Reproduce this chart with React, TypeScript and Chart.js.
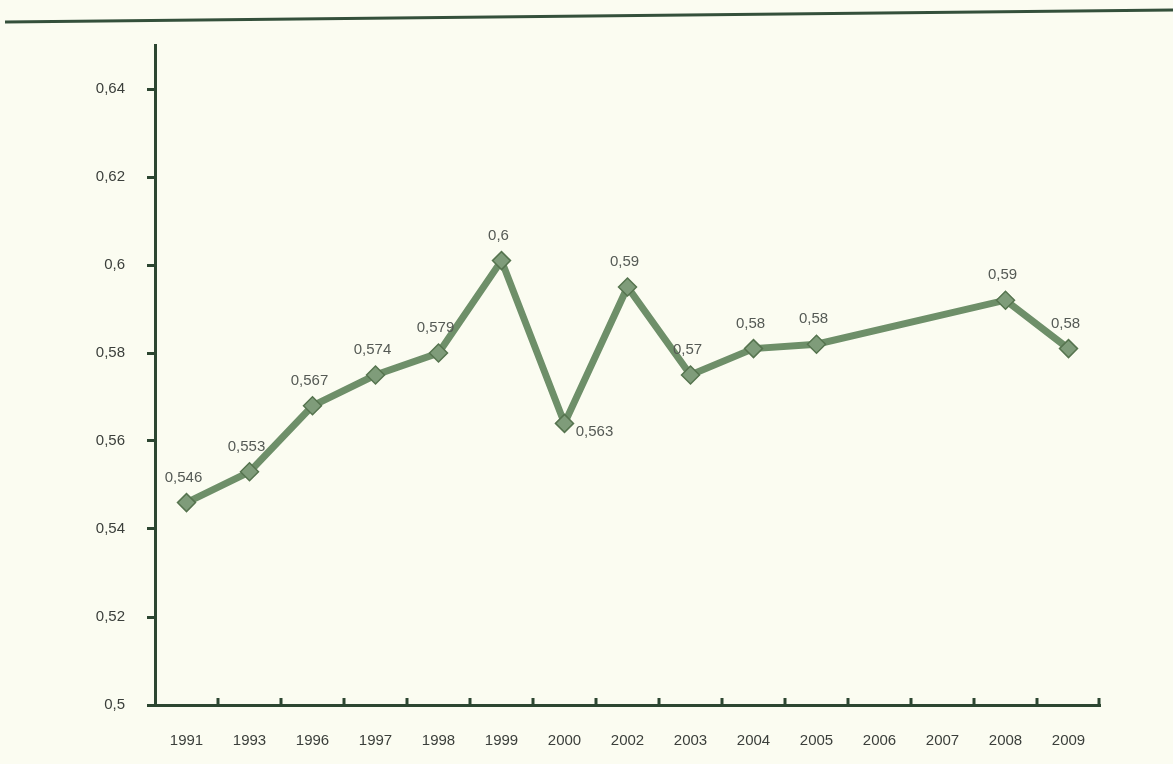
import React, { useEffect, useRef } from "react";
import { Chart, registerables } from "chart.js";

Chart.register(...registerables);

const categories = ["1991", "1993", "1996", "1997", "1998", "1999", "2000", "2002", "2003", "2004", "2005", "2006", "2007", "2008", "2009"];
const values: (number | null)[] = [0.546, 0.553, 0.568, 0.575, 0.58, 0.601, 0.564, 0.595, 0.575, 0.581, 0.582, null, null, 0.592, 0.581];
const valueLabels = ["0,546", "0,553", "0,567", "0,574", "0,579", "0,6", "0,563", "0,59", "0,57", "0,58", "0,58", "", "", "0,59", "0,58"];
const yTickValues = [0.5, 0.52, 0.54, 0.56, 0.58, 0.6, 0.62, 0.64];
const yTickLabels = ["0,5", "0,52", "0,54", "0,56", "0,58", "0,6", "0,62", "0,64"];

const AXIS = "#2c4631";
const FONT = "'Liberation Sans', Arial, sans-serif";

const decorPlugin = {
  id: "decor",
  beforeDraw(chart: any) {
    const { ctx, width, height } = chart;
    ctx.save();
    ctx.fillStyle = "#fbfcf1";
    ctx.fillRect(0, 0, width, height);
    ctx.restore();
  },
  afterDraw(chart: any) {
    const { ctx, chartArea, scales } = chart;
    const x = scales.x;
    ctx.save();
    // top rule
    ctx.strokeStyle = "#34503b";
    ctx.lineWidth = 3;
    ctx.beginPath();
    ctx.moveTo(5, 22);
    ctx.lineTo(chart.width, 10);
    ctx.stroke();
    // x tick marks pointing up, between categories
    ctx.strokeStyle = AXIS;
    ctx.lineWidth = 3;
    for (let i = 1; i <= categories.length; i++) {
      const px = i < categories.length
        ? (x.getPixelForValue(i - 1) + x.getPixelForValue(i)) / 2
        : chartArea.right - 1;
      ctx.beginPath();
      ctx.moveTo(px, chartArea.bottom);
      ctx.lineTo(px, chartArea.bottom - 7);
      ctx.stroke();
    }
    // data labels
    const meta = chart.getDatasetMeta(0);
    ctx.fillStyle = "#555a55";
    ctx.font = `15px ${FONT}`;
    ctx.textAlign = "center";
    ctx.textBaseline = "middle";
    meta.data.forEach((pt: any, i: number) => {
      const label = valueLabels[i];
      if (!label || values[i] == null) return;
      if (i === 6) {
        ctx.fillText(label, pt.x + 30, pt.y + 8);
      } else {
        ctx.fillText(label, pt.x - 3, pt.y - 25);
      }
    });
    ctx.restore();
  },
};

export default function App() {
  const ref = useRef<HTMLCanvasElement>(null);
  useEffect(() => {
    document.body.style.margin = "0";
    const chart = new Chart(ref.current as HTMLCanvasElement, {
      type: "line",
      data: {
        labels: categories,
        datasets: [
          {
            data: values,
            borderColor: "#6e8f69",
            borderWidth: 7,
            spanGaps: true,
            pointStyle: "rectRot",
            pointRadius: 9,
            pointBackgroundColor: "#7f9c7a",
            pointBorderColor: "#56744f",
            pointBorderWidth: 1.5,
            tension: 0,
          },
        ],
      },
      options: {
        responsive: false,
        animation: false,
        layout: { padding: { top: 45, right: 73, left: 0, bottom: 0 } },
        plugins: { legend: { display: false }, tooltip: { enabled: false } },
        scales: {
          x: {
            offset: true,
            grid: { display: true, drawOnChartArea: false, drawTicks: false },
            border: { display: true, color: AXIS, width: 3 },
            ticks: { color: "#3b3f3b", font: { family: FONT, size: 15 }, padding: 27, maxRotation: 0, autoSkip: false },
            afterFit: (s: any) => { s.height = 59; },
          },
          y: {
            min: 0.5,
            max: 0.65,
            afterBuildTicks: (s: any) => { s.ticks = yTickValues.map((v) => ({ value: v })); },
            grid: { display: true, drawOnChartArea: false, drawTicks: true, tickLength: 8, color: AXIS, lineWidth: 3 },
            border: { display: true, color: AXIS, width: 3 },
            ticks: {
              color: "#3b3f3b",
              font: { family: FONT, size: 15 },
              padding: 22,
              callback: (_v: any, i: number) => yTickLabels[i],
            },
            afterFit: (s: any) => { s.width = 155; },
          },
        },
      },
      plugins: [decorPlugin],
    });
    return () => chart.destroy();
  }, []);
  return (
    <div style={{ position: "absolute", left: 0, top: 0, width: 1173, height: 764 }}>
      <canvas ref={ref} width={1173} height={764} />
    </div>
  );
}
